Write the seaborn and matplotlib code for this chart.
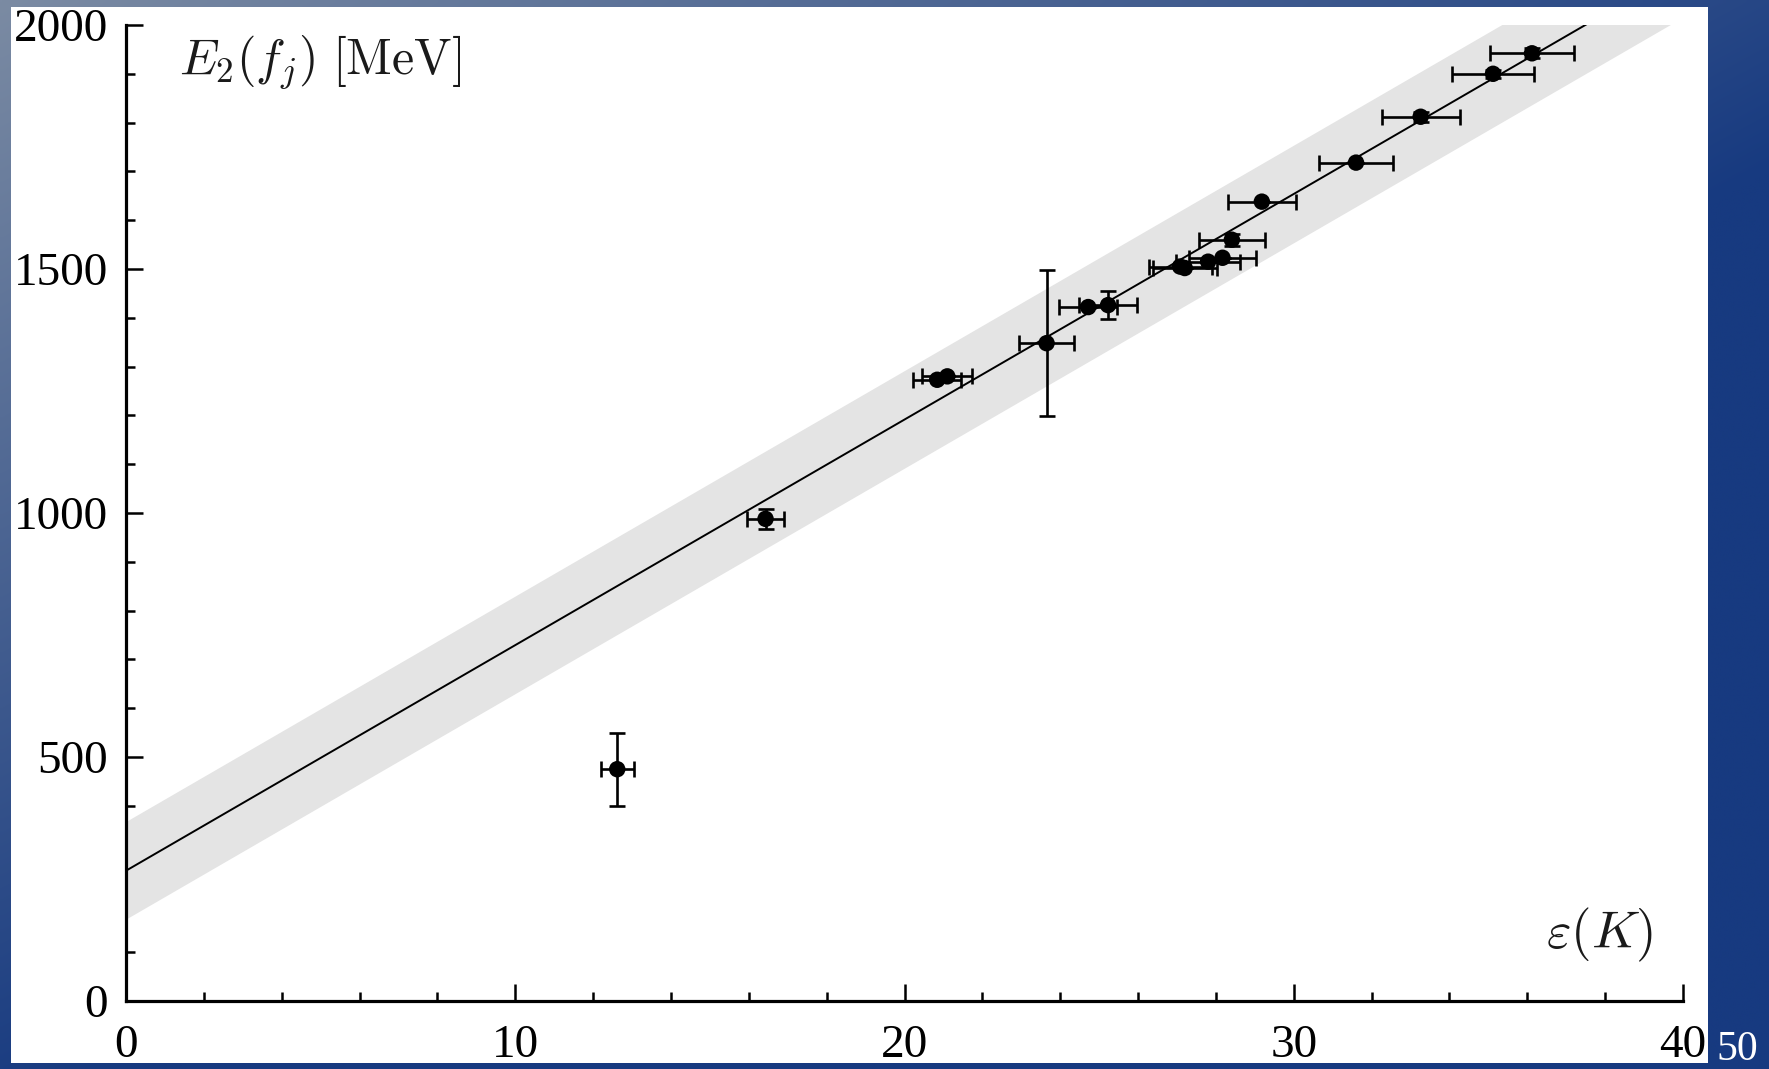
import numpy as np
import pandas as pd
import matplotlib
matplotlib.use("Agg")
import matplotlib.pyplot as plt
from matplotlib.patches import Rectangle
from matplotlib.ticker import MultipleLocator
import seaborn as sns

# ---- data ----
eps = [12.62, 16.43, 20.84, 21.10, 23.65, 24.72, 25.23, 27.08, 27.20,
       27.80, 28.17, 28.41, 29.18, 31.60, 33.26, 35.12, 36.12]
energy = [475, 988, 1273, 1280, 1348, 1422, 1426, 1505, 1502,
          1515, 1523, 1560, 1638, 1718, 1812, 1900, 1942]
eps_err = [0.42, 0.48, 0.62, 0.64, 0.71, 0.75, 0.75, 0.81, 0.82,
           0.83, 0.86, 0.85, 0.88, 0.95, 1.00, 1.06, 1.07]
energy_err = [75, 20, 0, 0, 150, 0, 29, 0, 0,
              0, 0, 12, 0, 0, 10, 8, 10]

fit_x = [0, 40]
fit_y = [267, 2116]
band_x = [0, 40]
band_lo = [168, 2016]
band_hi = [368, 2216]

xticks = [0, 10, 20, 30, 40]
yticks = [0, 500, 1000, 1500, 2000]

# ---- style ----
sns.set_theme(style="ticks")
plt.rcParams["font.family"] = ["Liberation Serif", "DejaVu Serif"]
plt.rcParams["mathtext.fontset"] = "cm"

W, H = 1769, 1069
fig = plt.figure(figsize=(W / 100, H / 100), dpi=100)

# slide background gradient
bg = fig.add_axes([0, 0, 1, 1], zorder=0)
xx, yy = np.meshgrid(np.linspace(0, 1, 400), np.linspace(0, 1, 250))
t = np.clip(0.85 * xx + 0.95 * yy, 0, 1)[..., None]
c0 = np.array([0x7b, 0x8b, 0xa3]) / 255
c1 = np.array([0x17, 0x3a, 0x80]) / 255
img = c0 * (1 - t) + c1 * t
bg.imshow(img, aspect="auto", extent=[0, 1, 1, 0], interpolation="bilinear")
bg.set_xlim(0, 1)
bg.set_ylim(1, 0)
bg.axis("off")

# white slide panel
fig.patches.append(Rectangle((11 / W, (H - 1063) / H), (1708 - 11) / W, (1063 - 7) / H,
                             transform=fig.transFigure, facecolor="white",
                             edgecolor="none", zorder=1))

ax = fig.add_axes([126 / W, (H - 1001) / H, (1683 - 126) / W, (1001 - 25) / H], zorder=2)
ax.set_facecolor("none")

ax.fill_between(band_x, band_lo, band_hi, color="#e4e4e4", linewidth=0, zorder=1)
sns.lineplot(x=fit_x, y=fit_y, ax=ax, color="black", linewidth=1.4, zorder=2)
ax.errorbar(eps, energy, xerr=eps_err, yerr=energy_err, fmt="none",
            ecolor="black", elinewidth=1.9, capsize=6, capthick=1.9, zorder=3)
sns.scatterplot(x=eps, y=energy, ax=ax, color="black", s=140,
                edgecolor="none", zorder=4)

ax.set_xlim(0, 40)
ax.set_ylim(0, 2000)
ax.set_xticks(xticks)
ax.set_yticks(yticks)
ax.xaxis.set_minor_locator(MultipleLocator(2))
ax.yaxis.set_minor_locator(MultipleLocator(100))
for s in ["top", "right"]:
    ax.spines[s].set_visible(False)
for s in ["left", "bottom"]:
    ax.spines[s].set_linewidth(2.3)
    ax.spines[s].set_color("black")
ax.tick_params(which="major", direction="in", length=12, width=1.8, colors="black",
               labelsize=34)
ax.tick_params(which="minor", direction="in", length=6.5, width=1.8, colors="black")
ax.tick_params(axis="x", which="major", pad=17)
ax.tick_params(axis="y", which="major", pad=13)
ax.set_xlabel("")
ax.set_ylabel("")

ax.text(0.034, 0.962, r"$E_2(f_j)\ [\mathrm{MeV}]$", transform=ax.transAxes,
        fontsize=36, ha="left", va="center", color="#1a1a1a")
ax.text(0.981, 0.068, r"$\varepsilon(K)$", transform=ax.transAxes,
        fontsize=38, ha="right", va="center", color="#1a1a1a")

fig.text(1737 / W, (H - 1060) / H, "50", color="white", fontsize=30,
         ha="center", va="baseline")

fig.savefig("out.png", dpi=100)
